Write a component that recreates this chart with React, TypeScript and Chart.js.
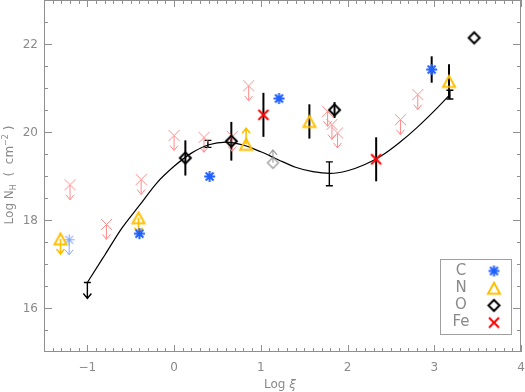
import React, { useEffect, useRef } from "react";
import { Chart, registerables } from "chart.js";
Chart.register(...registerables);

// ---- data ----
const xTickValues = [-1, 0, 1, 2, 3, 4];
const yTickValues = [16, 18, 20, 22];

const curveX = [-1, -0.8, -0.6, -0.4, -0.2, 0, 0.2, 0.4, 0.6, 0.8, 1.0, 1.2, 1.4, 1.6, 1.8, 2.0, 2.2, 2.4, 2.6, 2.8, 3.0, 3.18];
const curveY = [16.58, 17.2, 17.82, 18.33, 18.84, 19.22, 19.52, 19.71, 19.77, 19.7, 19.55, 19.37, 19.2, 19.1, 19.06, 19.12, 19.26, 19.47, 19.76, 20.1, 20.48, 20.85];

const modelX = [0.39, 1.79, 3.18];
const modelY = [19.73, 19.05, 20.85];
const modelErr = [0.08, 0.27, 0.1];
const modelLimX = [-1.0];
const modelLimY = [16.58];

const cX = [0.41, 1.21, 2.97, -0.4];
const cY = [18.99, 20.76, 21.42, 17.69];
const cErr = [0, 0, 0.3, 0];
const cLimX = [-1.21];
const cLimY = [17.55];

const nX = [1.56, 3.17];
const nY = [20.24, 21.15];
const nErr = [0.39, 0.39];
const nLowX = [0.83];
const nLowY = [19.72];
const nUpX = [-0.41, -1.31];
const nUpY = [18.05, 17.57];

const oX = [0.13, 0.66, 1.85, 3.46];
const oY = [19.41, 19.79, 20.5, 22.14];
const oErr = [0.4, 0.44, 0.18, 0];
const oLowX = [1.14];
const oLowY = [19.3];

const feX = [1.03, 2.33];
const feY = [20.39, 19.38];
const feErr = [0.5, 0.5];
const feLimX = [-1.2, -0.78, -0.38, 0.0, 0.345, 0.67, 0.86, 1.77, 1.82, 1.885, 2.61, 2.81];
const feLimY = [18.8, 17.9, 18.92, 19.92, 19.88, 19.9, 21.05, 20.47, 20.17, 19.98, 20.28, 20.85];

const legendLabels = ["C", "N", "O", "Fe"];

// ---- styles ----
const BLUE = "#2060ff";
const BLUE_L = "#85aaff";
const YEL = "#ffbf00";
const RED = "#ff0000";
const RED_L = "#ff8a8a";
const GRAY_L = "#9a9a9a";
const AXIS = "#8f8f8f";
const TXT = "#8a8a8a";
const FONT = "'DejaVu Sans', sans-serif";

function pts(xs: number[], ys: number[]) {
  return xs.map((x, i) => ({ x, y: ys[i] }));
}

function fmt(v: number) {
  return v < 0 ? "\u2212" + Math.abs(v) : String(v);
}

function makeMarker(kind: string, color: string, size: number, lw: number) {
  const pad = Math.ceil(lw) + 2;
  const S = size + pad * 2;
  const c = document.createElement("canvas");
  c.width = S;
  c.height = S;
  const g = c.getContext("2d") as CanvasRenderingContext2D;
  g.strokeStyle = color;
  g.lineWidth = lw;
  g.lineJoin = "miter";
  const m = S / 2;
  const r = size / 2;
  g.beginPath();
  if (kind === "asterisk") {
    g.moveTo(m, m - r); g.lineTo(m, m + r);
    g.moveTo(m - r, m); g.lineTo(m + r, m);
    const d = r * 0.72;
    g.moveTo(m - d, m - d); g.lineTo(m + d, m + d);
    g.moveTo(m - d, m + d); g.lineTo(m + d, m - d);
  } else if (kind === "triangle") {
    const h = size * 0.92;
    g.moveTo(m, m - h / 2); g.lineTo(m + r, m + h / 2); g.lineTo(m - r, m + h / 2); g.closePath();
  } else if (kind === "diamond") {
    g.moveTo(m, m - r); g.lineTo(m + r, m); g.lineTo(m, m + r); g.lineTo(m - r, m); g.closePath();
  } else {
    g.moveTo(m - r, m - r); g.lineTo(m + r, m + r);
    g.moveTo(m - r, m + r); g.lineTo(m + r, m - r);
  }
  g.stroke();
  return c;
}

export default function App() {
  const ref = useRef<HTMLCanvasElement | null>(null);

  useEffect(() => {
    if (!ref.current) return;
    const mk = {
      c: makeMarker("asterisk", BLUE, 11, 2),
      cL: makeMarker("asterisk", BLUE_L, 11, 1.1),
      n: makeMarker("triangle", YEL, 12, 2),
      o: makeMarker("diamond", "#000", 11, 2),
      oL: makeMarker("diamond", GRAY_L, 11, 1.3),
      fe: makeMarker("cross", RED, 10, 2),
      feL: makeMarker("cross", RED_L, 11, 1),
    };

    const decor = {
      id: "decor",
      beforeDatasetsDraw(chart: any) {
        const ctx = chart.ctx as CanvasRenderingContext2D;
        const xs = chart.scales.x;
        const ys = chart.scales.y;
        ctx.save();
        chart.data.datasets.forEach((ds: any) => {
          ds.data.forEach((p: any, i: number) => {
            const px = xs.getPixelForValue(p.x);
            const py = ys.getPixelForValue(p.y);
            if (ds.errors && ds.errors[i] > 0) {
              const e = ds.errors[i];
              const y1 = ys.getPixelForValue(p.y + e);
              const y2 = ys.getPixelForValue(p.y - e);
              ctx.strokeStyle = ds.errColor || "#000";
              ctx.lineWidth = ds.errWidth || 2;
              ctx.beginPath();
              ctx.moveTo(px, y1);
              ctx.lineTo(px, y2);
              ctx.stroke();
              if (ds.errCap) {
                ctx.beginPath();
                ctx.moveTo(px - 3.5, y1); ctx.lineTo(px + 3.5, y1);
                ctx.moveTo(px - 3.5, y2); ctx.lineTo(px + 3.5, y2);
                ctx.stroke();
              }
            }
            if (ds.arrow) {
              const dir = ds.arrow === "up" ? -1 : 1;
              const L = ds.arrowLen || 15;
              const tip = py + dir * L;
              ctx.strokeStyle = ds.arrowColor;
              ctx.lineWidth = ds.arrowWidth || 1.2;
              ctx.beginPath();
              ctx.moveTo(px, py);
              ctx.lineTo(px, tip);
              ctx.moveTo(px - 4, tip - dir * 5);
              ctx.lineTo(px, tip);
              ctx.lineTo(px + 4, tip - dir * 5);
              if (ds.arrowCap) {
                ctx.moveTo(px - 3.5, py);
                ctx.lineTo(px + 3.5, py);
              }
              ctx.stroke();
            }
          });
        });
        ctx.restore();
      },
      afterDraw(chart: any) {
        const ctx = chart.ctx as CanvasRenderingContext2D;
        const a = chart.chartArea;
        const xs = chart.scales.x;
        const ys = chart.scales.y;
        ctx.save();
        ctx.strokeStyle = AXIS;
        ctx.lineWidth = 1;
        ctx.strokeRect(a.left + 0.5, a.top + 0.5, a.right - a.left - 1, a.bottom - a.top - 1);
        ctx.beginPath();
        for (let k = -14; k <= 40; k++) {
          const v = k / 10;
          const px = Math.round(xs.getPixelForValue(v)) + 0.5;
          const len = k % 10 === 0 ? 7 : 4;
          ctx.moveTo(px, a.bottom); ctx.lineTo(px, a.bottom - len);
          ctx.moveTo(px, a.top); ctx.lineTo(px, a.top + len);
        }
        for (let k = 31; k <= 45; k++) {
          const v = k / 2;
          const py = Math.round(ys.getPixelForValue(v)) + 0.5;
          const len = k % 4 === 0 ? 8 : 4;
          ctx.moveTo(a.left, py); ctx.lineTo(a.left + len, py);
          ctx.moveTo(a.right, py); ctx.lineTo(a.right - len, py);
        }
        ctx.stroke();

        // tick labels
        ctx.fillStyle = TXT;
        ctx.font = `12px ${FONT}`;
        ctx.textBaseline = "middle";
        ctx.textAlign = "center";
        xTickValues.forEach((v) => {
          ctx.fillText(fmt(v), xs.getPixelForValue(v), a.bottom + 16);
        });
        ctx.textAlign = "right";
        yTickValues.forEach((v) => {
          ctx.fillText(fmt(v), a.left - 6, ys.getPixelForValue(v) + 0.5);
        });
        ctx.textAlign = "left";

        // y title
        ctx.save();
        ctx.translate(9, 175);
        ctx.rotate(-Math.PI / 2);
        const parts = [
          { t: "Log N", f: 12, dy: 0 },
          { t: "H", f: 8, dy: 3 },
          { t: "  (  cm", f: 12, dy: 0 },
          { t: "\u22122", f: 8, dy: -5 },
          { t: " )", f: 12, dy: 0 },
        ];
        let total = 0;
        parts.forEach((p) => {
          ctx.font = `${p.f}px ${FONT}`;
          total += ctx.measureText(p.t).width;
        });
        let cx = -total / 2;
        ctx.textBaseline = "alphabetic";
        parts.forEach((p) => {
          ctx.font = `${p.f}px ${FONT}`;
          ctx.fillText(p.t, cx, 4.4 + p.dy);
          cx += ctx.measureText(p.t).width;
        });
        ctx.restore();

        // x title
        ctx.textBaseline = "alphabetic";
        ctx.font = `12px ${FONT}`;
        const w1 = ctx.measureText("Log ").width;
        ctx.font = `italic 12px ${FONT}`;
        const w2 = ctx.measureText("\u03be").width;
        const sx = 280 - (w1 + w2) / 2;
        ctx.font = `12px ${FONT}`;
        ctx.fillText("Log ", sx, 388);
        ctx.font = `italic 12px ${FONT}`;
        ctx.fillText("\u03be", sx + w1, 388);

        // legend
        const bx = 440, by = 259, bw = 71, bh = 75;
        ctx.strokeStyle = "#a0a0a0";
        ctx.strokeRect(bx + 0.5, by + 0.5, bw, bh);
        const marks = [mk.c, mk.n, mk.o, mk.fe];
        ctx.font = `15px ${FONT}`;
        ctx.textAlign = "center";
        ctx.textBaseline = "middle";
        legendLabels.forEach((lab, i) => {
          const yy = 271 + i * 17.2;
          ctx.fillStyle = TXT;
          ctx.fillText(lab, 461, yy);
          const m = marks[i];
          ctx.drawImage(m, 494 - m.width / 2, yy - m.height / 2);
        });
        ctx.restore();
      },
    };

    const chart = new Chart(ref.current, {
      type: "scatter",
      data: {
        datasets: [
          { data: pts(feX, feY), pointStyle: mk.fe, pointRadius: 6, errors: feErr } as any,
          { data: pts(oX, oY), pointStyle: mk.o, pointRadius: 6, errors: oErr } as any,
          { data: pts(nX, nY), pointStyle: mk.n, pointRadius: 6, errors: nErr } as any,
          { data: pts(cX, cY), pointStyle: mk.c, pointRadius: 6, errors: cErr } as any,
          { data: pts(nLowX, nLowY), pointStyle: mk.n, pointRadius: 6, arrow: "up", arrowColor: YEL, arrowLen: 16, arrowWidth: 1.6 } as any,
          { data: pts(nUpX, nUpY), pointStyle: mk.n, pointRadius: 6, arrow: "down", arrowColor: YEL, arrowLen: 15, arrowWidth: 1.6 } as any,
          { data: pts(modelX, modelY), pointRadius: 0, errors: modelErr, errCap: true, errWidth: 1.4 } as any,
          { data: pts(modelLimX, modelLimY), pointRadius: 0, arrow: "down", arrowColor: "#000", arrowLen: 16, arrowWidth: 1.4, arrowCap: true } as any,
          { data: pts(oLowX, oLowY), pointStyle: mk.oL, pointRadius: 6, arrow: "up", arrowColor: GRAY_L, arrowLen: 13, arrowWidth: 1.1 } as any,
          { data: pts(cLimX, cLimY), pointStyle: mk.cL, pointRadius: 6, arrow: "down", arrowColor: BLUE_L, arrowLen: 15, arrowWidth: 1 } as any,
          { data: pts(feLimX, feLimY), pointStyle: mk.feL, pointRadius: 6, arrow: "down", arrowColor: RED_L, arrowLen: 15, arrowWidth: 1 } as any,
          {
            type: "line",
            data: pts(curveX, curveY),
            showLine: true,
            borderColor: "#000",
            borderWidth: 1.2,
            pointRadius: 0,
            cubicInterpolationMode: "monotone",
            fill: false,
          } as any,
        ],
      },
      options: {
        responsive: false,
        animation: false,
        devicePixelRatio: 1,
        layout: { autoPadding: false, padding: { left: 0, right: 4, top: 0, bottom: 0 } },
        plugins: { legend: { display: false }, tooltip: { enabled: false } },
        scales: {
          x: {
            type: "linear",
            min: -1.5,
            max: 4,
            grid: { display: false, drawTicks: false },
            border: { display: false },
            ticks: { display: false },
            afterFit: (s: any) => {
              s.height = 40;
            },
          },
          y: {
            type: "linear",
            min: 15,
            max: 23,
            grid: { display: false, drawTicks: false },
            border: { display: false },
            ticks: { display: false },
            afterFit: (s: any) => {
              s.width = 44;
            },
          },
        },
      } as any,
      plugins: [decor],
    });
    return () => chart.destroy();
  }, []);

  return (
    <div style={{ position: "fixed", left: 0, top: 0, width: 525, height: 392, background: "#fff" }}>
      <canvas ref={ref} width={525} height={392} />
    </div>
  );
}
